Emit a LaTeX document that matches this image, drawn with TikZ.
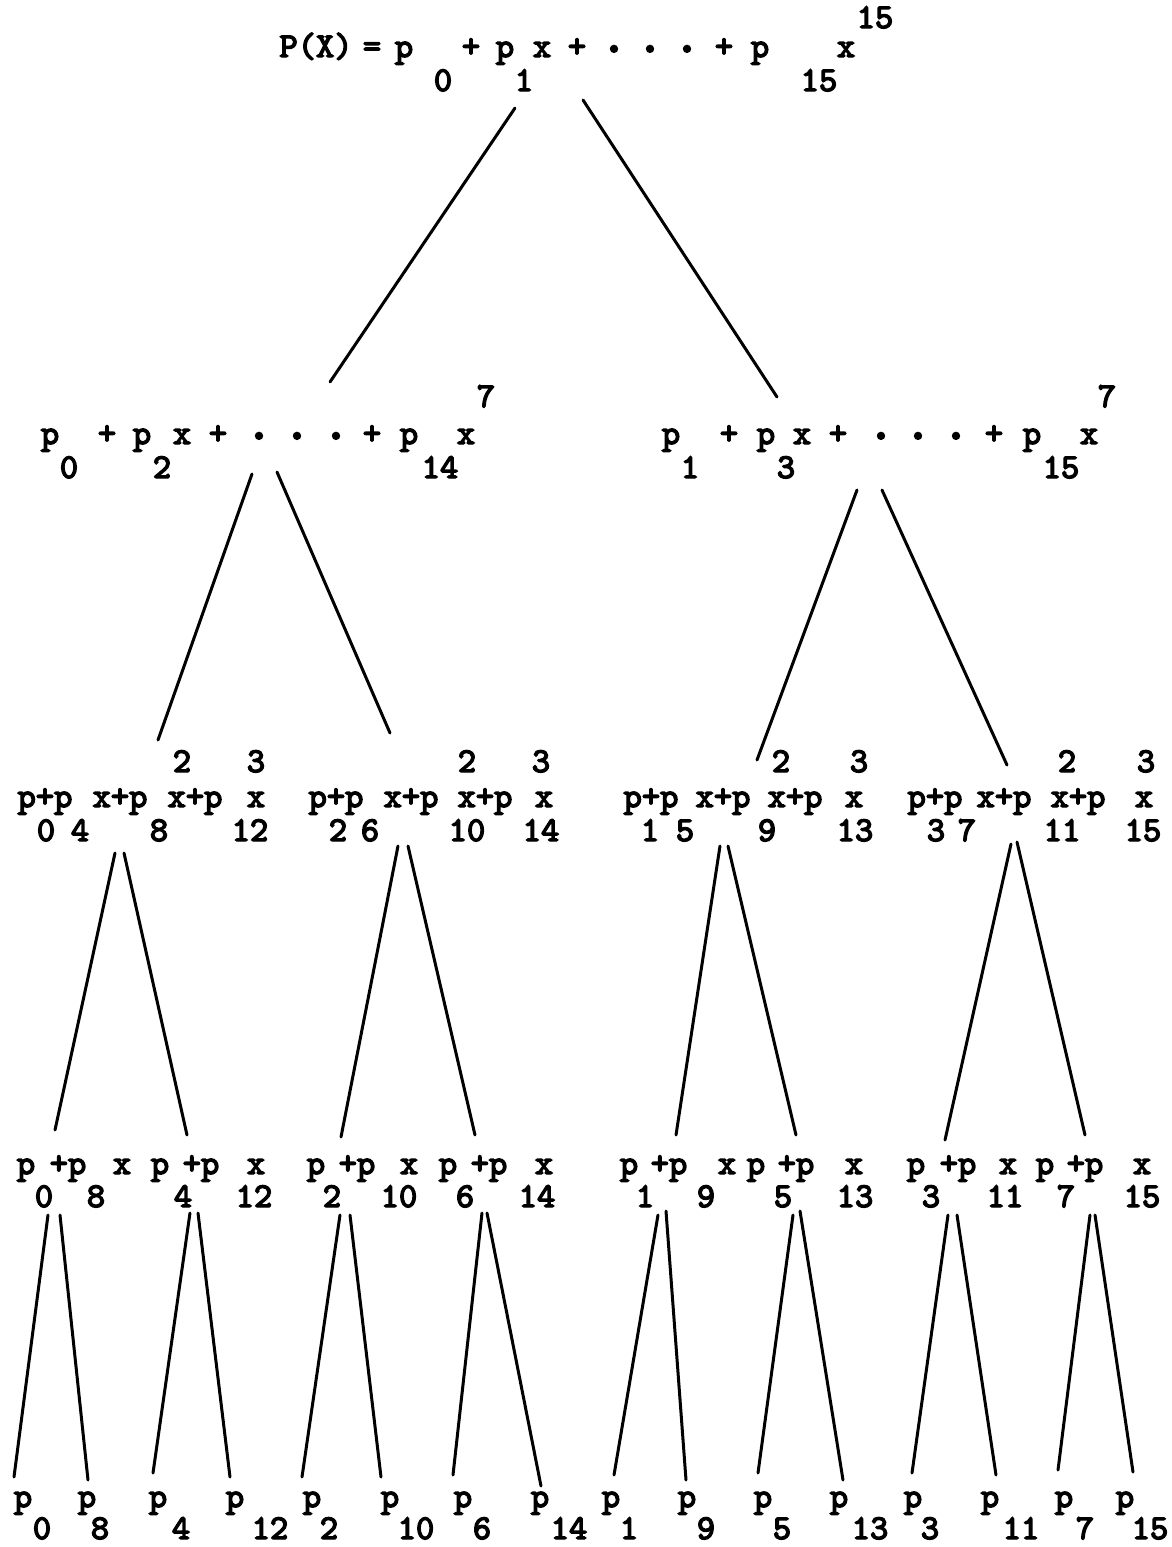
\documentclass[tikz,border=0pt]{standalone}
\usepackage{fontspec}
\newfontfamily\twfont{lmmono10-regular.otf}[FakeBold=4]
\newcounter{tkc}
\newcommand\tkn[3]{\stepcounter{tkc}\node[tok] (t\number\value{tkc}) at (#1,#2) {#3};}
\newcommand\dtn[2]{\stepcounter{tkc}\node[dotk] (t\number\value{tkc}) at (#1,#2) {.};}
\begin{document}
\begin{tikzpicture}[x=0.5pt,y=-0.5pt,
  tok/.style={inner sep=0pt,anchor=base,font=\fontsize{17.4}{17.4}\selectfont\twfont},
  dotk/.style={inner sep=0pt,anchor=base,font=\fontsize{25}{25}\selectfont\twfont},
  edge/.style={line width=1.5pt,line cap=round}]
\useasboundingbox (0,0) rectangle (1172,1547);

% ---------- level 0 ----------
\tkn{316}{57}{P(X)}
\tkn{372}{57}{=}
\tkn{404}{57}{p}
\tkn{443}{91}{0}
\tkn{471}{57}{+}
\tkn{505}{57}{p}
\tkn{524}{91}{1}
\tkn{542}{57}{x}
\tkn{577}{57}{+}
\dtn{614}{52}
\dtn{650}{52}
\dtn{687}{52}
\tkn{724}{57}{+}
\tkn{760}{57}{p}
\tkn{819}{91}{15}
\tkn{846}{57}{x}
\tkn{875}{28}{15}

% ---------- level 1 ----------
\tkn{50}{444}{p}
\tkn{69}{478}{0}
\tkn{107}{444}{+}
\tkn{142}{444}{p}
\tkn{162}{478}{2}
\tkn{182}{444}{x}
\tkn{218}{444}{+}
\dtn{259}{439}
\dtn{297}{439}
\dtn{336}{439}
\tkn{372}{444}{+}
\tkn{409}{444}{p}
\tkn{440}{478}{14}
\tkn{466}{444}{x}
\tkn{486}{407}{7}

\tkn{671}{444}{p}
\tkn{690}{478}{1}
\tkn{729}{444}{+}
\tkn{766}{444}{p}
\tkn{786}{478}{3}
\tkn{802}{444}{x}
\tkn{838}{444}{+}
\dtn{881}{439}
\dtn{918}{439}
\dtn{956}{439}
\tkn{994}{444}{+}
\tkn{1032}{444}{p}
\tkn{1061}{478}{15}
\tkn{1089}{444}{x}
\tkn{1107}{407}{7}

% ---------- level 2 ----------
\tkn{45}{807}{p+p}
\tkn{120}{807}{x+p}
\tkn{195}{807}{x+p}
\tkn{256}{807}{x}
\tkn{46}{841}{0}
\tkn{80}{841}{4}
\tkn{159}{841}{8}
\tkn{250}{841}{12}
\tkn{182}{772}{2}
\tkn{256}{772}{3}

\tkn{336}{807}{p+p}
\tkn{411}{807}{x+p}
\tkn{485}{807}{x+p}
\tkn{544}{807}{x}
\tkn{338}{841}{2}
\tkn{370}{841}{6}
\tkn{467}{841}{10}
\tkn{541}{841}{14}
\tkn{467}{772}{2}
\tkn{541}{772}{3}

\tkn{651}{807}{p+p}
\tkn{723}{807}{x+p}
\tkn{795}{807}{x+p}
\tkn{854}{807}{x}
\tkn{650}{841}{1}
\tkn{685}{841}{5}
\tkn{767}{841}{9}
\tkn{855}{841}{13}
\tkn{781}{772}{2}
\tkn{859}{772}{3}

\tkn{935}{807}{p+p}
\tkn{1004}{807}{x+p}
\tkn{1078}{807}{x+p}
\tkn{1144}{807}{x}
\tkn{936}{841}{3}
\tkn{967}{841}{7}
\tkn{1062}{841}{11}
\tkn{1143}{841}{15}
\tkn{1067}{772}{2}
\tkn{1146}{772}{3}

% ---------- level 3 ----------
\tkn{26}{1174}{p}
\tkn{68}{1174}{+p}
\tkn{122}{1174}{x}
\tkn{160}{1174}{p}
\tkn{201}{1174}{+p}
\tkn{256}{1174}{x}
\tkn{44}{1207}{0}
\tkn{96}{1207}{8}
\tkn{183}{1207}{4}
\tkn{254}{1207}{12}

\tkn{316}{1174}{p}
\tkn{357}{1174}{+p}
\tkn{409}{1174}{x}
\tkn{448}{1174}{p}
\tkn{489}{1174}{+p}
\tkn{544}{1174}{x}
\tkn{332}{1207}{2}
\tkn{399}{1207}{10}
\tkn{465}{1207}{6}
\tkn{537}{1207}{14}

\tkn{629}{1174}{p}
\tkn{669}{1174}{+p}
\tkn{727}{1174}{x}
\tkn{756}{1174}{p}
\tkn{796}{1174}{+p}
\tkn{854}{1174}{x}
\tkn{645}{1207}{1}
\tkn{706}{1207}{9}
\tkn{783}{1207}{5}
\tkn{855}{1207}{13}

\tkn{916}{1174}{p}
\tkn{958}{1174}{+p}
\tkn{1008}{1174}{x}
\tkn{1045}{1174}{p}
\tkn{1085}{1174}{+p}
\tkn{1142}{1174}{x}
\tkn{931}{1207}{3}
\tkn{1005}{1207}{11}
\tkn{1066}{1207}{7}
\tkn{1142}{1207}{15}

% ---------- level 4 ----------
\foreach \px/\sx/\s in {23/42/0, 87/100/8, 158/181/4, 235/270/12, 312/329/2, 390/416/10, 463/482/6, 540/569/14,
  611/629/1, 687/706/9, 763/782/5, 839/870/13, 913/930/3, 990/1021/11, 1064/1085/7, 1125/1150/15}{
  \tkn{\px}{1507}{p}
  \tkn{\sx}{1539}{\s}
}

% ---------- connector end points ----------
\coordinate (r-l) at (515,108);  \coordinate (r-r) at (583,100);
\coordinate (a-t) at (330,382);  \coordinate (b-t) at (777,397);
\coordinate (a-l) at (252,474);  \coordinate (a-r) at (277,472);
\coordinate (b-l) at (857,490);  \coordinate (b-r) at (882,490);
\coordinate (aa-t) at (158,740); \coordinate (ab-t) at (390,733);
\coordinate (ba-t) at (757,760); \coordinate (bb-t) at (1007,765);
\coordinate (aa-l) at (115,853); \coordinate (aa-r) at (124,853);
\coordinate (ab-l) at (398,846); \coordinate (ab-r) at (408,846);
\coordinate (ba-l) at (720,846); \coordinate (ba-r) at (728,846);
\coordinate (bb-l) at (1011,844);\coordinate (bb-r) at (1017,842);
\coordinate (aaa-t) at (55,1130);  \coordinate (aab-t) at (187,1135);
\coordinate (aba-t) at (341,1137); \coordinate (abb-t) at (475,1135);
\coordinate (baa-t) at (676,1135); \coordinate (bab-t) at (796,1135);
\coordinate (bba-t) at (945,1140); \coordinate (bbb-t) at (1085,1135);
\coordinate (aaa-l) at (48,1215);  \coordinate (aaa-r) at (60,1215);
\coordinate (aab-l) at (190,1213); \coordinate (aab-r) at (198,1213);
\coordinate (aba-l) at (340,1215); \coordinate (aba-r) at (350,1215);
\coordinate (abb-l) at (482,1213); \coordinate (abb-r) at (487,1213);
\coordinate (baa-l) at (658,1215); \coordinate (baa-r) at (666,1211);
\coordinate (bab-l) at (793,1215); \coordinate (bab-r) at (800,1211);
\coordinate (bba-l) at (948,1215); \coordinate (bba-r) at (957,1215);
\coordinate (bbb-l) at (1090,1215);\coordinate (bbb-r) at (1095,1215);
\coordinate (L0) at (14,1477);   \coordinate (L8) at (88,1480);
\coordinate (L4) at (153,1473);  \coordinate (L12) at (230,1477);
\coordinate (L2) at (302,1477);  \coordinate (L10) at (381,1477);
\coordinate (L6) at (453,1475);  \coordinate (L14) at (541,1486);
\coordinate (L1) at (614,1475);  \coordinate (L9) at (686,1480);
\coordinate (L5) at (758,1473);  \coordinate (L13) at (843,1480);
\coordinate (L3) at (912,1473);  \coordinate (L11) at (996,1475);
\coordinate (L7) at (1058,1470); \coordinate (L15) at (1133,1472);

% ---------- connectors ----------
\draw[edge] (r-l) -- (a-t);   \draw[edge] (r-r) -- (b-t);
\draw[edge] (a-l) -- (aa-t);  \draw[edge] (a-r) -- (ab-t);
\draw[edge] (b-l) -- (ba-t);  \draw[edge] (b-r) -- (bb-t);
\draw[edge] (aa-l) -- (aaa-t); \draw[edge] (aa-r) -- (aab-t);
\draw[edge] (ab-l) -- (aba-t); \draw[edge] (ab-r) -- (abb-t);
\draw[edge] (ba-l) -- (baa-t); \draw[edge] (ba-r) -- (bab-t);
\draw[edge] (bb-l) -- (bba-t); \draw[edge] (bb-r) -- (bbb-t);
\draw[edge] (aaa-l) -- (L0);  \draw[edge] (aaa-r) -- (L8);
\draw[edge] (aab-l) -- (L4);  \draw[edge] (aab-r) -- (L12);
\draw[edge] (aba-l) -- (L2);  \draw[edge] (aba-r) -- (L10);
\draw[edge] (abb-l) -- (L6);  \draw[edge] (abb-r) -- (L14);
\draw[edge] (baa-l) -- (L1);  \draw[edge] (baa-r) -- (L9);
\draw[edge] (bab-l) -- (L5);  \draw[edge] (bab-r) -- (L13);
\draw[edge] (bba-l) -- (L3);  \draw[edge] (bba-r) -- (L11);
\draw[edge] (bbb-l) -- (L7);  \draw[edge] (bbb-r) -- (L15);
\end{tikzpicture}
\end{document}
